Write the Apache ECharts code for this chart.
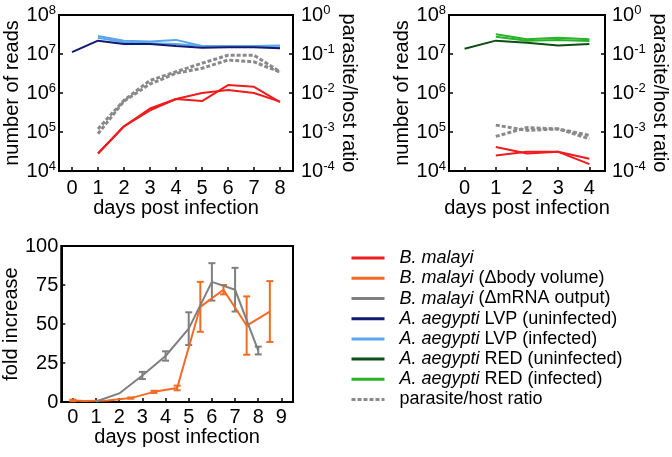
<!DOCTYPE html>
<html><head><meta charset="utf-8">
<script src="https://cdn.jsdelivr.net/npm/echarts@6/dist/echarts.min.js"></script>
<style>html,body{margin:0;padding:0;background:#fff}#c{width:672px;height:457px}</style>
</head><body><div id="c"></div><script>
// ---- data ----
const daysLVP = [0,1,2,3,4,5,6,7,8];
const lvpUninfected = [1.12e7,2.2e7,1.8e7,1.8e7,1.6e7,1.45e7,1.5e7,1.5e7,1.4e7];
const lvpInfectedA = [null,2.9e7,2.2e7,2.1e7,2.3e7,1.6e7,1.6e7,1.6e7,1.65e7];
const lvpInfectedB = [null,2.6e7,2.0e7,1.9e7,1.8e7,1.6e7,1.55e7,1.55e7,1.5e7];
const bmLvpA = [null,2.8e4,1.4e5,4.0e5,7.0e5,1.0e6,1.2e6,1.0e6,6.0e5];
const bmLvpB = [null,2.8e4,1.4e5,3.6e5,7.0e5,6.2e5,1.6e6,1.44e6,5.8e5];
const ratioLvpA = [null,1.2e-3,6.5e-3,2.1e-2,3.5e-2,5.8e-2,9.3e-2,9.3e-2,3.5e-2];
const ratioLvpB = [null,9.0e-4,6.2e-3,1.7e-2,3.2e-2,4.3e-2,7.0e-2,6.3e-2,3.4e-2];

const daysRED = [0,1,2,3,4];
const redUninfected = [1.37e7,2.2e7,1.95e7,1.65e7,1.8e7];
const redInfectedA = [null,3.2e7,2.4e7,2.6e7,2.4e7];
const redInfectedB = [null,2.75e7,2.2e7,2.3e7,2.15e7];
const bmRedA = [null,4.1e4,2.8e4,3.1e4,1.5e4];
const bmRedB = [null,2.5e4,3.1e4,3.1e4,2.07e4];
const ratioRedA = [null,1.5e-3,1.1e-3,1.2e-3,8.2e-4];
const ratioRedB = [null,7.7e-4,1.3e-3,1.2e-3,6.7e-4];

const mrnaDays = [1,2,3,4,5,6,7,8];
const mrnaFold = [0.3,5.5,17,29.5,47,77,72,33];
const mrnaErr = [0,0,2.3,3,10.5,12,14,2.5];
const bodyDays = [0,0.5,1.5,2.5,3.5,4.5,5.5,6.5,7.5,8.5];
const bodyFold = [1,0.6,0.9,2.5,6.5,9,61,72,49,58];
const bodyErr = [0.5,0,0,0.4,0.7,1.5,16,3,18.7,19.5];

const ticksTop = [0,1,2,3,4,5,6,7,8];
const ticksRight = [0,1,2,3,4];
const ticksBottom = [0,1,2,3,4,5,6,7,8,9];

const legendNames = ['B. malayi','B. malayi (\u0394body volume)','B. malayi (\u0394mRNA output)',
  'A. aegypti LVP (uninfected)','A. aegypti LVP (infected)','A. aegypti RED (uninfected)',
  'A. aegypti RED (infected)','parasite/host ratio'];

// ---- styles ----
const FONT = 'Liberation Sans, Arial, sans-serif';
const C = {red:'#ee1c1c', orange:'#f26a24', gray:'#7f7f7f', navy:'#111a72', lblue:'#5aa6ec',
  dgreen:'#0f4d16', green:'#28b428', dash:'#8a8a8a'};

const pairs = (xs, ys) => xs.map((x,i)=>[x, ys[i]]).filter(p=>p[1]!=null);
const logFmt = v => { const e = Math.round(Math.log10(v)); return '{b|10}{s|' + (e<0 ? '-' + (-e) : e) + '}'; };
const rich = { b:{fontSize:20, fontFamily:FONT, color:'#000', lineHeight:22},
  s:{fontSize:13, fontFamily:FONT, color:'#000', verticalAlign:'top', lineHeight:13} };
const axLine = {show:true, onZero:false, lineStyle:{color:'#000', width:2}};
const nameStyle = {fontSize:20, fontFamily:FONT, color:'#000'};

function xAx(grid, max, ticks, gap, margin){
  return {gridIndex:grid, type:'value', min:-0.5, max:max, axisLine:axLine,
    axisTick:{show:true, inside:true, length:4, lineStyle:{color:'#000', width:1.5}, customValues:ticks},
    axisLabel:{customValues:ticks, fontSize:20, fontFamily:FONT, color:'#000', margin:margin},
    splitLine:{show:false}, name:'days post infection', nameLocation:'middle', nameGap:gap, nameTextStyle:nameStyle};
}
function yLog(grid, min, max, pos, name, gap, rot, margin){
  return {gridIndex:grid, type:'log', logBase:10, min:min, max:max, position:pos, axisLine:axLine,
    axisTick:{show:true, inside:true, length:4, lineStyle:{color:'#000', width:1.5}},
    axisLabel:{formatter:logFmt, rich:rich, margin:margin},
    splitLine:{show:false}, minorTick:{show:false},
    name:name, nameLocation:'middle', nameGap:gap, nameRotate:rot, nameTextStyle:nameStyle};
}
function line(name, data, color, xi, yi, extra){
  return Object.assign({type:'line', name:name, data:data, xAxisIndex:xi, yAxisIndex:yi,
    symbol:'none', lineStyle:{color:color, width:2}, itemStyle:{color:color}, silent:true, animation:false}, extra||{});
}
function dashed(data, xi, yi){
  return line('parasite/host ratio', data, C.dash, xi, yi, {lineStyle:{color:C.dash, width:3, type:[4,2]}});
}
function errBars(name, xs, ys, es, color){
  return {type:'custom', name:name, xAxisIndex:2, yAxisIndex:4, silent:true, animation:false,
    data: xs.map((x,i)=>[x, ys[i], es[i]]).filter(d=>d[2]>0),
    renderItem:(params, api)=>{
      const x = api.value(0), y = api.value(1), e = api.value(2);
      const t = api.coord([x, y+e]), b = api.coord([x, y-e]);
      const w = 3.5, st = {stroke:color, lineWidth:2};
      return {type:'group', children:[
        {type:'line', shape:{x1:t[0], y1:t[1], x2:b[0], y2:b[1]}, style:st},
        {type:'line', shape:{x1:t[0]-w, y1:t[1], x2:t[0]+w, y2:t[1]}, style:st},
        {type:'line', shape:{x1:b[0]-w, y1:b[1], x2:b[0]+w, y2:b[1]}, style:st}]};
    }};
}

const option = {
  backgroundColor:'#fff', animation:false,
  textStyle:{fontFamily:FONT},
  grid:[
    {left:59, top:15, width:234, height:156, show:true, borderColor:'#000', borderWidth:2, backgroundColor:'transparent'},
    {left:449, top:15, width:156, height:156, show:true, borderColor:'#000', borderWidth:2, backgroundColor:'transparent'},
    {left:58, top:246, width:235, height:156, show:true, borderColor:'#000', borderWidth:2, backgroundColor:'transparent'}
  ],
  xAxis:[ xAx(0, 8.5, ticksTop, 27, 7), xAx(1, 4.5, ticksRight, 27, 7), xAx(2, 9.5, ticksBottom, 22, 5) ],
  yAxis:[
    yLog(0, 1e4, 1e8, 'left', 'number of reads', 34, 90, 3),
    yLog(0, 1e-4, 1, 'right', 'parasite/host ratio', 42, -90, 8),
    yLog(1, 1e4, 1e8, 'left', 'number of reads', 37, 90, 3),
    yLog(1, 1e-4, 1, 'right', 'parasite/host ratio', 35, -90, 7),
    {gridIndex:2, type:'value', min:0, max:100, interval:25, axisLine:axLine,
      axisTick:{show:true, inside:true, length:4, lineStyle:{color:'#000', width:1.5}},
      axisLabel:{fontSize:20, fontFamily:FONT, color:'#000', margin:3}, splitLine:{show:false},
      name:'fold increase', nameLocation:'middle', nameGap:38, nameRotate:90, nameTextStyle:nameStyle}
  ],
  legend:{
    data:legendNames, orient:'vertical', left:345, top:243, itemWidth:33, itemHeight:12, itemGap:0,
    lineStyle:{width:3}, itemStyle:{opacity:0}, selectedMode:false,
    textStyle:{fontSize:18, fontFamily:FONT, color:'#000', lineHeight:20.2, padding:[0,0,0,10],
      rich:{i:{fontStyle:'italic', fontSize:18, fontFamily:FONT, color:'#000', lineHeight:20.2},
            n:{fontSize:18, fontFamily:FONT, color:'#000', lineHeight:20.2}}},
    formatter:name=>{
      let m = name.match(/^(B\. malayi|A\. aegypti)(.*)$/);
      if (m) return '{i|' + m[1] + '}' + (m[2] ? '{n|' + m[2] + '}' : '');
      return name;
    }
  },
  series:[
    // top-left (LVP)
    dashed(pairs(daysLVP, ratioLvpA), 0, 1),
    dashed(pairs(daysLVP, ratioLvpB), 0, 1),
    line('B. malayi', pairs(daysLVP, bmLvpA), C.red, 0, 0),
    line('B. malayi', pairs(daysLVP, bmLvpB), C.red, 0, 0),
    line('A. aegypti LVP (infected)', pairs(daysLVP, lvpInfectedA), C.lblue, 0, 0),
    line('A. aegypti LVP (infected)', pairs(daysLVP, lvpInfectedB), C.lblue, 0, 0),
    line('A. aegypti LVP (uninfected)', pairs(daysLVP, lvpUninfected), C.navy, 0, 0),
    // top-right (RED)
    dashed(pairs(daysRED, ratioRedA), 1, 3),
    dashed(pairs(daysRED, ratioRedB), 1, 3),
    line('B. malayi', pairs(daysRED, bmRedA), C.red, 1, 2),
    line('B. malayi', pairs(daysRED, bmRedB), C.red, 1, 2),
    line('A. aegypti RED (infected)', pairs(daysRED, redInfectedA), C.green, 1, 2),
    line('A. aegypti RED (infected)', pairs(daysRED, redInfectedB), C.green, 1, 2),
    line('A. aegypti RED (uninfected)', pairs(daysRED, redUninfected), C.dgreen, 1, 2),
    // bottom
    line('B. malayi (\u0394body volume)', pairs(bodyDays, bodyFold), C.orange, 2, 4),
    line('B. malayi (\u0394mRNA output)', pairs(mrnaDays, mrnaFold), C.gray, 2, 4),
    errBars('err body', bodyDays, bodyFold, bodyErr, C.orange),
    errBars('err mrna', mrnaDays, mrnaFold, mrnaErr, C.gray)
  ]
};
const chart = echarts.init(document.getElementById('c'), null, {renderer:'canvas'});
chart.setOption(option);
</script></body></html>
